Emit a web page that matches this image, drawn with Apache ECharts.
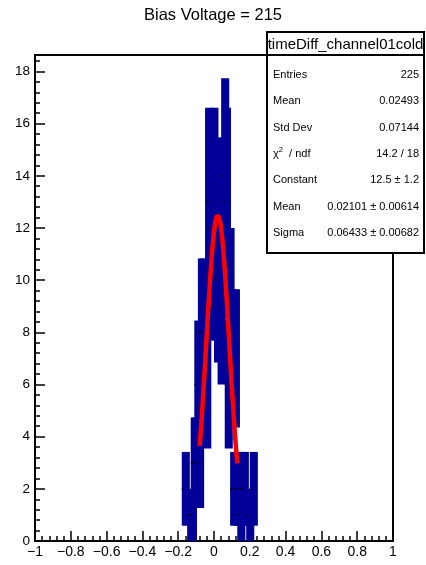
<!DOCTYPE html>
<html><head><meta charset="utf-8">
<script src="https://cdn.jsdelivr.net/npm/echarts@6/dist/echarts.min.js"></script>
<style>html,body{margin:0;padding:0;background:#fff}#c{width:426px;height:565px}</style>
</head><body><div id="c"></div>
<script>
// ---- data ----
const binLowEdges = [-0.18,-0.15,-0.14,-0.13,-0.12,-0.11,-0.10,-0.09,-0.08,-0.07,
  -0.06,-0.05,-0.04,-0.03,-0.02,-0.01,0.00,0.01,0.02,0.03,
  0.04,0.05,0.06,0.07,0.08,0.09,0.10,0.11,0.12,0.13,
  0.14,0.15,0.18,0.20];
const binCounts = [2,1,1,3,3,6,3,8,8,7,
  6,13,12,11,13,11,10,12,9,12,
  14,13,6,9,7,2,7,2,2,1,
  2,2,1,2];
const xTickLabels = ['\u22121','\u22120.8','\u22120.6','\u22120.4','\u22120.2','0','0.2','0.4','0.6','0.8','1'];
const yTickLabels = ['0','2','4','6','8','10','12','14','16','18'];
const fitConstant = 12.5;
const fitMean = 0.02101;
const fitSigma = 0.06433;
const fitRange = [-0.08, 0.13];
const titleText = 'Bias Voltage = 215';
const statsTitle = 'timeDiff_channel01cold';
const statsLabels = ['Entries','Mean','Std Dev','CHI','Constant','Mean','Sigma'];
const statsValues = ['225','0.02493','0.07144','14.2 / 18','12.5 \u00b1 1.2','0.02101 \u00b1 0.00614','0.06433 \u00b1 0.00682'];

// ---- rendering ----
const FONT = 'Liberation Sans, Arial, Helvetica, sans-serif';
const BOX_W = 0.045;      // drawn width of the error boxes
const BIN_HALF = 0.005;   // marker offset from bin low edge
const yMax = 18.63;

const boxData = binLowEdges.map((x, i) => [x, binCounts[i]]);
const dotData = binLowEdges.map((x, i) => [x + BIN_HALF, binCounts[i]]);
const fitData = [];
for (let x = fitRange[0]; x <= fitRange[1] + 1e-9; x += 0.002) {
  fitData.push([x, fitConstant * Math.exp(-0.5 * Math.pow((x - fitMean) / fitSigma, 2))]);
}

const chart = echarts.init(document.getElementById('c'), null, {renderer: 'canvas'});

const tickStyle = {color: '#000', width: 1.5};
const option = {
  animation: false,
  backgroundColor: '#fff',
  title: {
    text: titleText, left: 'center', top: 2,
    textStyle: {fontFamily: FONT, fontSize: 16.5, fontWeight: 'normal', color: '#000'}
  },
  grid: {left: 35, right: 33, top: 55, bottom: 24, show: true, borderColor: '#000', borderWidth: 2, backgroundColor: 'transparent'},
  xAxis: [
    {type: 'value', min: -1, max: 1, interval: 0.04, position: 'bottom',
      axisLine: {show: true, onZero: false, lineStyle: {color: '#000', width: 2}},
      axisTick: {inside: true, length: 5, lineStyle: tickStyle},
      splitLine: {show: false},
      axisLabel: {fontFamily: FONT, fontSize: 14, color: '#000', margin: 4, showMinLabel: true, showMaxLabel: true,
        formatter: v => { const r = (v + 1) / 0.2, k = Math.round(r); return Math.abs(r - k) < 1e-6 ? xTickLabels[k] : ''; }}
    },
    {type: 'value', min: -1, max: 1, interval: 0.2, position: 'bottom',
      axisLine: {show: false, onZero: false},
      axisTick: {inside: true, length: 10, lineStyle: tickStyle},
      splitLine: {show: false}, axisLabel: {show: false}
    }
  ],
  yAxis: [
    {type: 'value', min: 0, max: yMax, interval: 0.4, position: 'left',
      axisLine: {show: true, onZero: false, lineStyle: {color: '#000', width: 2}},
      axisTick: {inside: true, length: 5, lineStyle: tickStyle},
      splitLine: {show: false},
      axisLabel: {fontFamily: FONT, fontSize: 13.5, color: '#000', margin: 5, showMaxLabel: false,
        formatter: v => { const r = v / 2, k = Math.round(r); return (Math.abs(r - k) < 1e-6 && k < yTickLabels.length) ? yTickLabels[k] : ''; }}
    },
    {type: 'value', min: 0, max: yMax, interval: 2, position: 'left',
      axisLine: {show: false, onZero: false},
      axisTick: {inside: true, length: 10, lineStyle: tickStyle},
      splitLine: {show: false}, axisLabel: {show: false}
    }
  ],
  series: [
    {type: 'custom', xAxisIndex: 0, yAxisIndex: 0, clip: true, z: 2, data: boxData,
      renderItem: (params, api) => {
        const x0 = api.value(0), n = api.value(1), e = Math.sqrt(n);
        const p1 = api.coord([x0, n + e]);
        const p2 = api.coord([x0 + BOX_W, n - e]);
        return {type: 'rect', shape: {x: p1[0], y: p1[1], width: p2[0] - p1[0], height: p2[1] - p1[1]},
          style: {fill: '#000099'}};
      }
    },
    {type: 'scatter', xAxisIndex: 0, yAxisIndex: 0, z: 3, data: dotData, symbol: 'rect', symbolSize: [2, 1.6],
      itemStyle: {color: '#000'}, silent: true},
    {type: 'line', xAxisIndex: 0, yAxisIndex: 0, z: 4, data: fitData, showSymbol: false, smooth: false,
      lineStyle: {color: '#ff0000', width: 4.5}, silent: true}
  ],
  graphic: []
};

// stats box
const bx = 267, by = 32, bw = 157, bh = 221, titleH = 23;
const g = [];
g.push({type: 'rect', z: 100, shape: {x: bx, y: by, width: bw, height: bh}, style: {fill: '#fff', stroke: '#000', lineWidth: 2}});
g.push({type: 'line', z: 101, shape: {x1: bx, y1: by + titleH, x2: bx + bw, y2: by + titleH}, style: {stroke: '#000', lineWidth: 2}});
g.push({type: 'text', z: 101, x: bx + bw / 2, y: by + titleH / 2 + 1,
  style: {text: statsTitle, fontFamily: FONT, fontSize: 15, fill: '#000', align: 'center', verticalAlign: 'middle'}});
const rowY0 = 75, rowDY = 26.3;
statsLabels.forEach((lab, i) => {
  const y = rowY0 + i * rowDY;
  if (lab === 'CHI') {
    g.push({type: 'text', z: 101, x: bx + 6, y: y,
      style: {text: '{a|\u03c7}{s|2}{a|  / ndf}', fontFamily: FONT, verticalAlign: 'middle', align: 'left',
        rich: {a: {fontFamily: FONT, fontSize: 11, fill: '#000'}, s: {fontFamily: FONT, fontSize: 7.5, fill: '#000', padding: [0, 0, 7, 0]}}}});
  } else {
    g.push({type: 'text', z: 101, x: bx + 6, y: y,
      style: {text: lab, fontFamily: FONT, fontSize: 11, fill: '#000', align: 'left', verticalAlign: 'middle'}});
  }
  g.push({type: 'text', z: 101, x: bx + bw - 5, y: y,
    style: {text: statsValues[i], fontFamily: FONT, fontSize: 11, fill: '#000', align: 'right', verticalAlign: 'middle'}});
});
option.graphic = g;

chart.setOption(option);
</script>
</body></html>
